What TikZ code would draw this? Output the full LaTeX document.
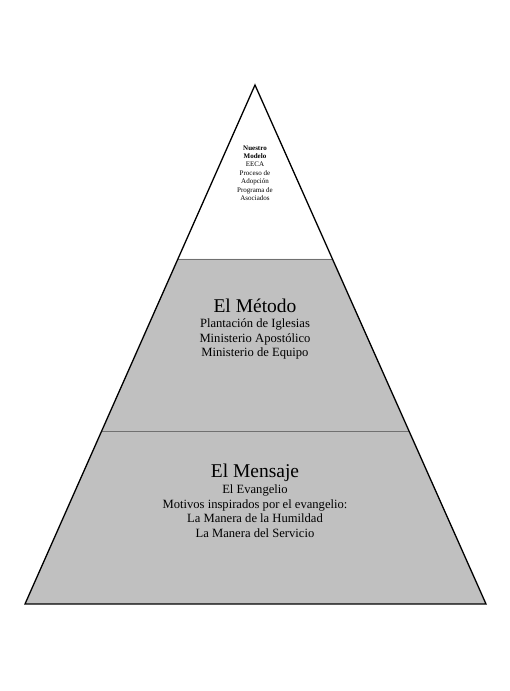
\documentclass[tikz,border=0pt]{standalone}
\usepackage{fontspec}
\setmainfont{Liberation Serif}
\definecolor{tiergray}{HTML}{C0C0C0}
\definecolor{divgray}{HTML}{707070}
\tikzset{
  tier/.style={fill=tiergray, draw=none},
  divider/.style={draw=divgray, line width=0.9pt},
  outline/.style={draw=black, line width=1.3pt, line join=miter},
  title/.style={font=\fontsize{19.5}{22}\selectfont, inner sep=0pt, anchor=base},
  body/.style={font=\fontsize{12.6}{14.6}\selectfont, align=center, inner sep=0pt},
  small/.style={font=\fontsize{7}{8.4}\selectfont, align=center, inner sep=0pt}
}
\begin{document}
\begin{tikzpicture}[x=1pt,y=1pt]
\useasboundingbox (0,0) rectangle (510,691);
\coordinate (apex) at (255,606);
\coordinate (bl) at (25,87);
\coordinate (br) at (486,87);
\coordinate (d1l) at (177.9,432);
\coordinate (d1r) at (332.1,432);
\coordinate (d2l) at (101.3,260);
\coordinate (d2r) at (408.7,260);
\fill[tier] (d1l) -- (d1r) -- (br) -- (bl) -- cycle;
\draw[divider] (d1l) -- (d1r);
\draw[divider] (d2l) -- (d2r);
\draw[outline] (apex) -- (br) -- (bl) -- cycle;
\node[small] (top) at (255,518) {\textbf{Nuestro}\\\textbf{Modelo}\\EECA\\Proceso de\\Adopción\\Programa de\\Asociados};
\node[title] (metodo) at (255,378) {El Método};
\node[body] (metodob) at (255,352) {Plantación de Iglesias\\Ministerio Apostólico\\Ministerio de Equipo};
\node[title] (mensaje) at (255,213.7) {El Mensaje};
\node[body] (mensajeb) at (255,180) {El Evangelio\\Motivos inspirados por el evangelio:\\La Manera de la Humildad\\La Manera del Servicio};
\end{tikzpicture}
\end{document}
